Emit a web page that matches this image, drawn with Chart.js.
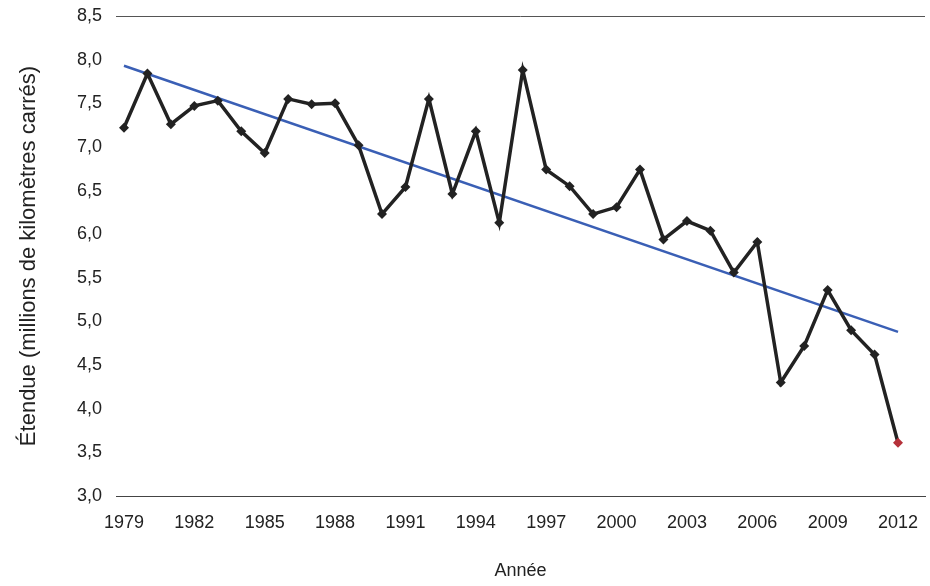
<!DOCTYPE html>
<html><head><meta charset="utf-8">
<script src="https://cdn.jsdelivr.net/npm/chart.js@4"></script>
<style>body{margin:0;background:#fff}#w{width:930px;height:586px}</style>
</head><body><div id="w"><canvas id="c"></canvas></div>
<script>
const years=[1979,1980,1981,1982,1983,1984,1985,1986,1987,1988,1989,1990,1991,1992,1993,1994,1995,1996,1997,1998,1999,2000,2001,2002,2003,2004,2005,2006,2007,2008,2009,2010,2011,2012];
const extent=[7.22,7.84,7.26,7.47,7.53,7.18,6.93,7.55,7.49,7.50,7.02,6.23,6.54,7.55,6.46,7.18,6.13,7.88,6.74,6.55,6.23,6.31,6.74,5.94,6.15,6.04,5.56,5.91,4.30,4.72,5.36,4.90,4.62,3.61];
const trendYears=[1979,2012];
const trendVals=[7.93,4.88];
const xTicks=[1979,1982,1985,1988,1991,1994,1997,2000,2003,2006,2009,2012];
const F='"Liberation Sans", Arial, sans-serif';
new Chart(document.getElementById('c'),{
 type:'line',
 data:{datasets:[
  {data:years.map((y,i)=>({x:y,y:extent[i]})),borderColor:'#222',borderWidth:3.5,tension:0,
   pointStyle:'rectRot',pointRadius:5,pointBorderWidth:0,
   pointBackgroundColor:years.map((y,i)=>i===years.length-1?'#b5313a':'#222')},
  {data:trendYears.map((y,i)=>({x:y,y:trendVals[i]})),borderColor:'#3a5fb5',borderWidth:2.5,pointRadius:0}
 ]},
 options:{responsive:true,maintainAspectRatio:false,animation:false,
  layout:{padding:{top:0,right:5,left:12,bottom:0}},
  plugins:{legend:{display:false},tooltip:{enabled:false}},
  scales:{
   x:{type:'linear',min:1978.66,max:2013.15,
    afterFit:s=>{s.height=90;},
    afterBuildTicks:s=>{s.ticks=xTicks.map(v=>({value:v}));},
    ticks:{font:{family:F,size:18},color:'#222',autoSkip:false,maxRotation:0,padding:8,callback:v=>String(v)},
    grid:{display:false},border:{color:'#444',width:1},
    title:{display:true,text:'Année',font:{family:F,size:18},color:'#222',padding:{top:28}}},
   y:{min:3,max:8.5,
    afterFit:s=>{s.width=104;s.paddingTop=16;},
    ticks:{stepSize:0.5,font:{family:F,size:18,lineHeight:1},color:'#222',padding:14,callback:v=>v.toFixed(1).replace('.',',')},
    grid:{color:c=>c.tick.value===8.5?'#555':'rgba(0,0,0,0)',drawTicks:false},
    border:{display:false},
    title:{display:true,text:'Étendue (millions de kilomètres carrés)',font:{family:F,size:22},color:'#222'}}
  }}
});
</script></body></html>
